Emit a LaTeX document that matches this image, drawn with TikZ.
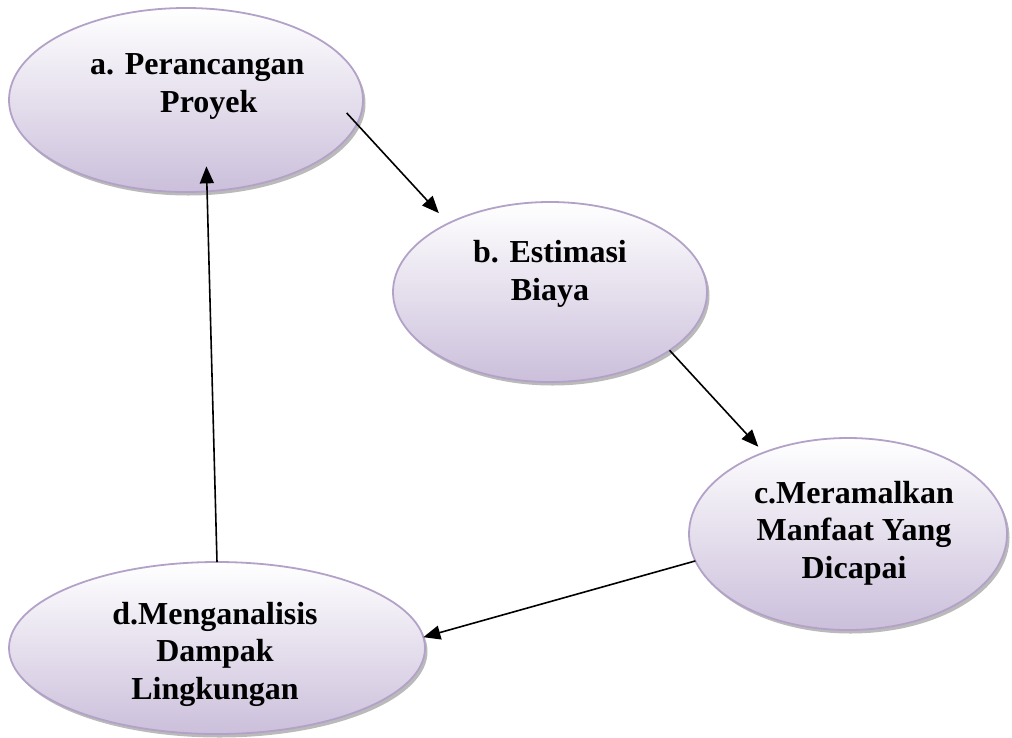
\documentclass[tikz,border=0pt]{standalone}
\usepackage{fontspec}
\setmainfont{Liberation Serif}
\usetikzlibrary{arrows.meta, shapes.geometric, shadows}
\definecolor{ovalline}{RGB}{179,162,199}
\definecolor{ovalfill}{RGB}{203,191,219}

\begin{document}
\begin{tikzpicture}[
  x=1pt, y=-1pt,
  oval/.style={ellipse, draw=ovalline, line width=1.8pt, top color=white, bottom color=ovalfill,
    inner sep=0pt, outer sep=0pt,
    drop shadow={shadow xshift=2.5pt, shadow yshift=-3.5pt, fill=black!45, opacity=0.6}},
  ovaltext/.style={font=\fontsize{32}{37.5}\selectfont\bfseries, inner sep=0pt},
  arrow/.style={-{Triangle[length=17pt, width=14pt]}, line width=1.6pt, black}
]
  \useasboundingbox (0,0) rectangle (1012,737);

  % Ovals
  \node[oval, minimum width=354pt, minimum height=184pt] (rancang) at (186,100) {};
  \node[oval, minimum width=314pt, minimum height=180pt] (biaya) at (550,292) {};
  \node[oval, minimum width=318pt, minimum height=192pt] (manfaat) at (848,534) {};
  \node[oval, minimum width=416pt, minimum height=172pt] (dampak) at (217,648) {};

  % Texts (base = last line)
  \node[ovaltext, align=left, anchor=base west] (trancang) at (90,112) {a. Perancangan\\\hspace*{70pt}Proyek};
  \node[ovaltext, align=center, anchor=base] (tbiaya) at (550,300) {b. Estimasi\\Biaya};
  \node[ovaltext, align=center, anchor=base] (tmanfaat) at (854,578) {c.Meramalkan\\Manfaat Yang\\Dicapai};
  \node[ovaltext, align=center, anchor=base] (tdampak) at (215,699) {d.Menganalisis\\Dampak\\Lingkungan};

  % Arrows
  \draw[arrow, shorten <=-15pt, shorten >=14pt] (rancang.-8) -- (biaya.146);
  \draw[arrow, shorten >=8pt] (biaya.-26) -- (manfaat.136);
  \draw[arrow] (manfaat.-170) -- (dampak.3);
  \draw[arrow, shorten >=-25pt] (dampak.north) -- (rancang.-77);
\end{tikzpicture}
\end{document}
